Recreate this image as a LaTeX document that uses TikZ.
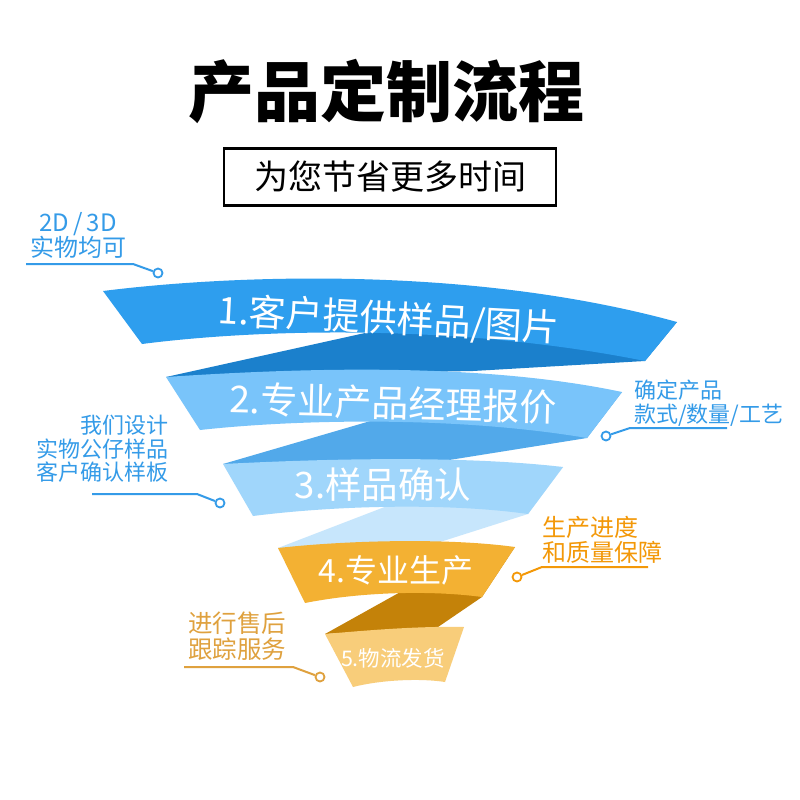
\documentclass[tikz,border=0pt]{standalone}
\usepackage{fontspec}
\setmainfont{Noto Sans CJK SC}
\usetikzlibrary{calc}

\definecolor{bandA}{RGB}{46,158,238}
\definecolor{foldA}{RGB}{27,128,204}
\definecolor{bandB}{RGB}{121,196,250}
\definecolor{foldB}{RGB}{82,169,234}
\definecolor{bandC}{RGB}{160,214,251}
\definecolor{foldC}{RGB}{199,230,252}
\definecolor{bandD}{RGB}{243,177,51}
\definecolor{foldD}{RGB}{196,130,9}
\definecolor{bandE}{RGB}{248,205,122}
\definecolor{noteblue}{RGB}{52,155,232}
\definecolor{noteorange}{RGB}{243,152,8}
\definecolor{notegold}{RGB}{223,161,62}

\begin{document}
\begin{tikzpicture}[
    x=1pt, y=-1pt,
    steplabel/.style={text=white, inner sep=0pt},
    note/.style={inner sep=0pt, font=\fontsize{22}{23.5}\selectfont},
    dot/.style={circle, draw, fill=white, line width=1.8pt, minimum size=9pt, inner sep=0pt},
    lead/.style={line width=2pt},
]
\fill[white] (0,0) rectangle (800,800);
\useasboundingbox (0,0) rectangle (800,800);

% ============ title ============
\node[font=\fontsize{66}{66}\selectfont\bfseries] (title) at (386,91) {产品定制流程};
\node[draw, line width=2.5pt, minimum width=332pt, minimum height=57pt, inner sep=0pt,
      font=\fontsize{34}{34}\selectfont] (subtitle) at (390,177) {为您节省更多时间};

% ============ ribbon corners ============
\coordinate (b1tl) at (103,291); \coordinate (b1tr) at (677,322);
\coordinate (b1br) at (645,361); \coordinate (b1bl) at (142,344);
\coordinate (b2tl) at (166,377); \coordinate (b2tr) at (622,392);
\coordinate (b2br) at (587,438); \coordinate (b2bl) at (200,430);
\coordinate (b3tl) at (223,464); \coordinate (b3tr) at (563,467);
\coordinate (b3br) at (528,514); \coordinate (b3bl) at (253,516);
\coordinate (b4tl) at (278,548); \coordinate (b4tr) at (515,547);
\coordinate (b4br) at (482,597); \coordinate (b4bl) at (305,603);
\coordinate (b5tl) at (325,634); \coordinate (b5tr) at (464,627);
\coordinate (b5br) at (445,682); \coordinate (b5bl) at (353,687);
% fold apexes on the lower edge of each band
\coordinate (p1) at (365,333); \coordinate (p2) at (367,422);
\coordinate (p3) at (382,508); \coordinate (p4) at (395,595);

% ============ folds (back side, drawn first) ============
\fill[foldA] (b2tl) -- ($(b2tl)!1.15!(p1)$) -- (b1tr) -- (b1br) -- (473,371) -- cycle;
\fill[foldB] (b3tl) -- ($(b3tl)!1.15!(p2)$) -- (b2tr) -- (b2br) -- (443,461) -- cycle;
\fill[foldC] (b4tl) -- ($(b4tl)!1.15!(p3)$) -- (b3tr) -- (b3br) -- (440,542) -- cycle;
\fill[foldD] (b5tl) -- ($(b5tl)!1.15!(p4)$) -- (b4tr) -- (b4br) -- (438,627) -- cycle;

% ============ bands ============
\fill[bandA] (b1tl) .. controls (230,275) and (470,265) .. (b1tr) -- (b1br)
             .. controls (450,322) and (250,330) .. (b1bl) -- cycle;
\fill[bandB] (b2tl) .. controls (300,368) and (480,362) .. (b2tr) -- (b2br)
             .. controls (450,415) and (290,420) .. (b2bl) -- cycle;
\fill[bandC] (b3tl) .. controls (320,459) and (460,455) .. (b3tr) -- (b3br)
             .. controls (450,503) and (340,505) .. (b3bl) -- cycle;
\fill[bandD] (b4tl) .. controls (350,540) and (450,538) .. (b4tr) -- (b4br)
             .. controls (430,590) and (360,592) .. (b4bl) -- cycle;
\fill[bandE] (b5tl) .. controls (370,630) and (420,626) .. (b5tr) -- (b5br)
             .. controls (420,678) and (380,680) .. (b5bl) -- cycle;

\node[steplabel, rotate=-3, font=\fontsize{37}{37}\selectfont] (s1) at (389,320) {1.客户提供样品/图片};
\node[steplabel, rotate=-1.5, font=\fontsize{37}{37}\selectfont] (s2) at (393,403) {2.专业产品经理报价};
\node[steplabel, font=\fontsize{36.5}{36.5}\selectfont] (s3) at (383,485) {3.样品确认};
\node[steplabel, font=\fontsize{32}{32}\selectfont] (s4) at (396,570) {4.专业生产};
\node[steplabel, font=\fontsize{21.5}{21.5}\selectfont] (s5) at (393,658) {5.物流发货};

% ============ side notes ============
\node[note, text=noteblue, align=center, anchor=north, font=\fontsize{24}{25}\selectfont] (nA) at (78,212) {2D\,/\,3D\\实物均可};
\node[note, text=noteblue, align=left, anchor=north west] (nB) at (634,380) {确定产品\\款式/数量/工艺};
\node[note, text=noteblue, align=right, anchor=north east] (nC) at (169,415) {我们设计\\实物公仔样品\\客户确认样板};
\node[note, text=noteorange, align=left, anchor=north west, font=\fontsize{24}{25}\selectfont] (nD) at (542,516) {生产进度\\和质量保障};
\node[note, text=notegold, align=left, anchor=north west, font=\fontsize{24.5}{26}\selectfont] (nE) at (188,612) {进行售后\\跟踪服务};

\node[dot, draw=noteblue] (dA) at (158,273) {};
\node[dot, draw=noteblue] (dB) at (606,436) {};
\node[dot, draw=noteblue] (dC) at (220,503) {};
\node[dot, draw=noteorange] (dD) at (517,577) {};
\node[dot, draw=notegold] (dE) at (320,677) {};

\coordinate (kA) at (133,264); \coordinate (eA) at (26,264);
\coordinate (kB) at (630,428); \coordinate (eB) at (727,428);
\coordinate (kC) at (197,494); \coordinate (eC) at (92,494);
\coordinate (kD) at (542,567); \coordinate (eD) at (648,567);
\coordinate (kE) at (293,667); \coordinate (eE) at (184,667);

\draw[lead, noteblue] (dA) -- (kA) -- (eA);
\draw[lead, noteblue] (dB) -- (kB) -- (eB);
\draw[lead, noteblue] (dC) -- (kC) -- (eC);
\draw[lead, noteorange] (dD) -- (kD) -- (eD);
\draw[lead, notegold] (dE) -- (kE) -- (eE);

\end{tikzpicture}
\end{document}
